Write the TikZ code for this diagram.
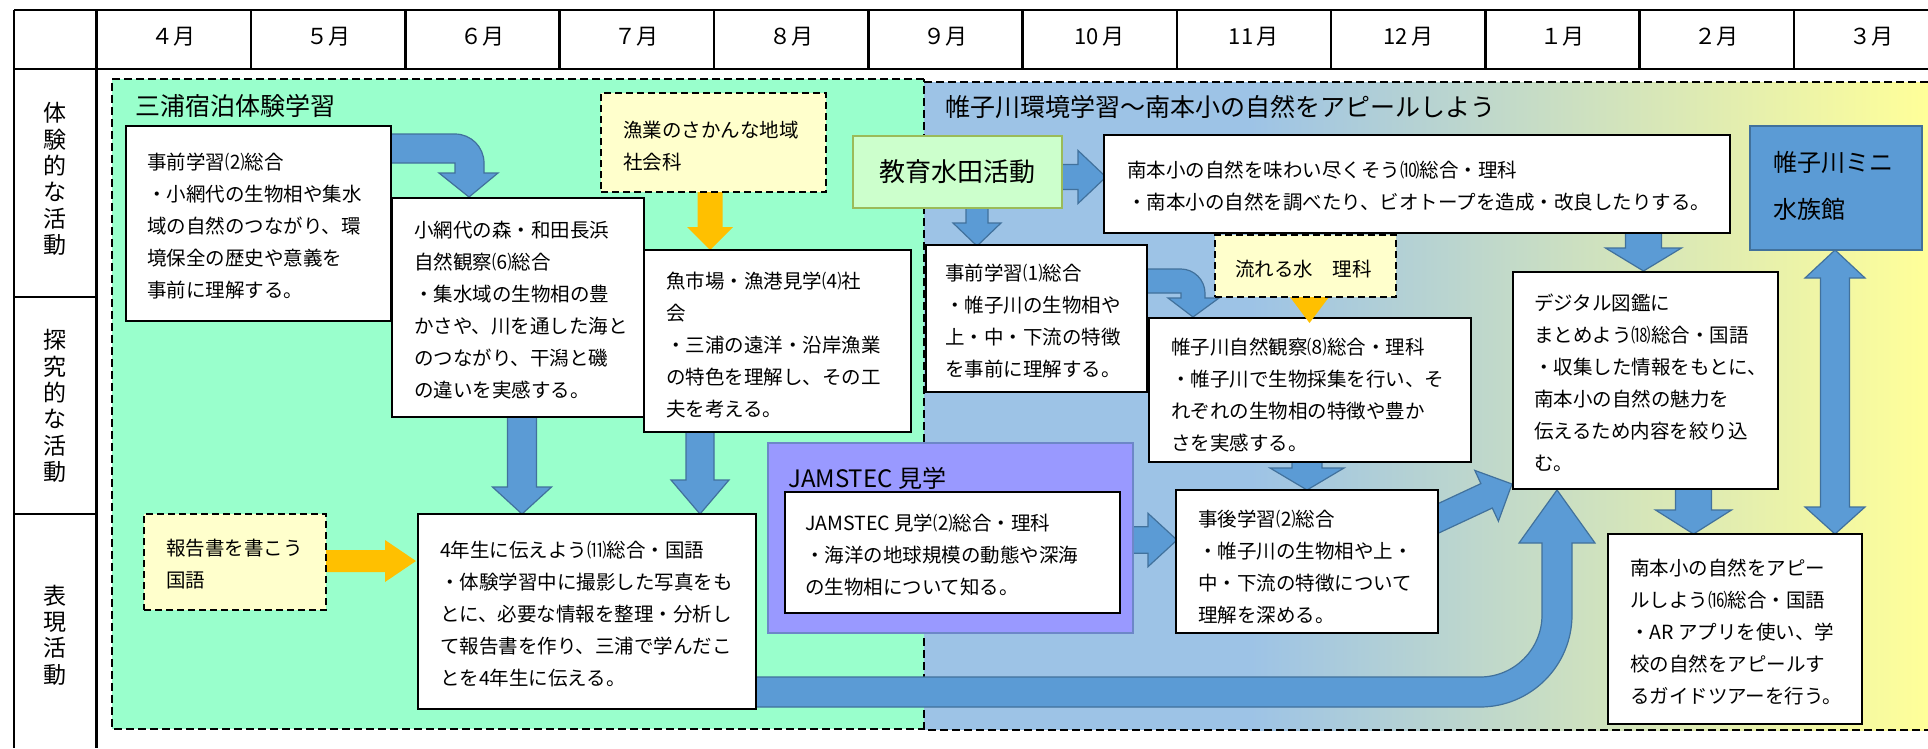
\documentclass[tikz,border=0pt]{standalone}
\usepackage{fontspec}
\setmainfont{Noto Sans CJK JP}
\usetikzlibrary{calc}
\definecolor{mint}{HTML}{99FFCC}
\definecolor{skyb}{HTML}{9DC3E6}
\definecolor{paley}{HTML}{FFFF99}
\definecolor{ylw}{HTML}{FFFFCC}
\definecolor{orng}{HTML}{FFC000}
\definecolor{arrblue}{HTML}{5B9BD5}
\definecolor{arrline}{HTML}{41719C}
\definecolor{lgreen}{HTML}{CCFFCC}
\definecolor{oliveg}{HTML}{9BBB59}
\definecolor{purp}{HTML}{9999FF}
\definecolor{purpline}{HTML}{6D87C8}
\newcommand\mybox[6]{\node[#2, anchor=north west, inner sep=0pt, outer sep=0pt, minimum width={(#5-#3)*1pt}, minimum height={(#6-#4)*1pt}] (#1) at (#3,#4) {};}
\newcommand\darrow[7]{\path[#1] ({#2-#6},#3) -- ({#2+#6},#3) -- ({#2+#6},#4) -- ({#2+#7},#4) -- (#2,#5) -- ({#2-#7},#4) -- ({#2-#6},#4) -- cycle;}
\newcommand\rarrow[7]{\path[#1] (#2,{#5-#6}) -- (#3,{#5-#6}) -- (#3,{#5-#7}) -- (#4,#5) -- (#3,{#5+#7}) -- (#3,{#5+#6}) -- (#2,{#5+#6}) -- cycle;}
\tikzset{
  tline/.style={line width=2.6pt},
  region/.style={line width=2.4pt, dash pattern=on 8pt off 4pt},
  wbox/.style={draw=black, fill=white, line width=2.6pt},
  ybox/.style={draw=black, fill=ylw, line width=2.4pt, dash pattern=on 7pt off 4pt},
  txt/.style={anchor=base west, inner sep=0pt, outer sep=0pt, align=left, font=\fontsize{19.5}{32}\selectfont},
  ttl/.style={anchor=base west, inner sep=0pt, font=\fontsize{25}{30}\selectfont},
  month/.style={anchor=base, inner sep=0pt, font=\fontsize{22}{26}\selectfont},
  lbl/.style={inner sep=0pt, align=center, font=\fontsize{23}{26.4}\selectfont},
  barrow/.style={fill=arrblue, draw=arrline, line width=1.2pt},
  oarrow/.style={fill=orng, draw=none},
}
\begin{document}
\begin{tikzpicture}[x=1pt,y=-1pt]
\useasboundingbox (0,0) rectangle (1928,748);
% ---------- table ----------
\draw[tline] (14,10) -- (1928,10);
\draw[tline] (14,69) -- (1928,69);
\draw[tline] (14,10) -- (14,748);
\draw[tline] (96.7,10) -- (96.7,748);
\draw[tline] (14,297) -- (96.7,297);
\draw[tline] (14,514) -- (96.7,514);
\foreach \k in {1,...,11} \draw[tline] ({96.7+154.3*\k},10) -- ({96.7+154.3*\k},69);
\foreach \m [count=\k from 0] in {４月,５月,６月,７月,８月,９月,10\,月,11\,月,12\,月,１月,２月,３月}
  \node[month] (m\k) at ({96.7+154.3*(\k+0.5)},44.5) {\m};
\node[lbl] (l1) at (55,179) {体\\験\\的\\な\\活\\動};
\node[lbl] (l2) at (55,406) {探\\究\\的\\な\\活\\動};
\node[lbl] (l3) at (55,635) {表\\現\\活\\動};
% ---------- regions ----------
\fill[mint] (112,79) rectangle (924,729);
\fill[skyb] (924,82) rectangle (1251,730);
\shade[left color=skyb, right color=paley] (1250,82) rectangle (1928,730);
\draw[region] (924,79) -- (112,79) -- (112,729) -- (924,729);
\draw[region] (1928,82) -- (924,82) -- (924,730) -- (1928,730);
\draw[region] (924,79) -- (924,82);
\node[ttl] (title1) at (135,115.5) {三浦宿泊体験学習};
\node[ttl] (title2) at (945,116.5) {帷子川環境学習～南本小の自然をアピールしよう};
% ---------- arrows behind boxes ----------
\path[barrow] (380,134) -- (455,134) .. controls (471,134) and (484,147) .. (484,163) -- (484,173) -- (498,173) -- (469,197) -- (439,173) -- (455,173) -- (455,163) -- (380,163) -- cycle;
\darrow{barrow}{522}{410}{487}{514}{14.5}{29.5}
\darrow{barrow}{700}{425}{480}{514}{14}{29}
\rarrow{oarrow}{320}{385}{416}{561}{11}{21}
\darrow{oarrow}{710}{185}{227}{250}{12.5}{23}
\rarrow{barrow}{1055}{1078}{1106}{177}{12.5}{26.5}
\darrow{barrow}{977}{200}{223}{246}{11}{24}
\path[barrow] (1140,269) -- (1181,269) .. controls (1194,269) and (1205,280) .. (1205,293) -- (1205,298) -- (1219,298) -- (1193,317) -- (1168,298) -- (1181,298) -- (1181,293) -- (1140,293) -- cycle;
\darrow{barrow}{1643.5}{226}{248}{271}{18}{38}
\darrow{barrow}{1307}{455}{468}{490}{15}{37}
\rarrow{barrow}{1125}{1148}{1177}{540}{13.3}{26.7}
\path[barrow] (1426.5,509) -- (1480.9,483.6) -- (1474.8,470.4) -- (1512,484) -- (1498.4,521.2) -- (1492.3,508) -- (1437.9,533.4) -- cycle;
\path[barrow] (740,677) -- (1480,677) .. controls (1514.2,677) and (1542,649.2) .. (1542,615) -- (1542,543) -- (1519,543) -- (1557,490) -- (1595,543) -- (1572,543) -- (1572,615) .. controls (1572,665.8) and (1530.8,707) .. (1480,707) -- (740,707) -- cycle;
\darrow{barrow}{1693.5}{482}{510}{534}{18}{38}
\path[barrow] (1835,250) -- (1865,278) -- (1849.5,278) -- (1849.5,507) -- (1865,507) -- (1835,534) -- (1805,507) -- (1820.5,507) -- (1820.5,278) -- (1805,278) -- cycle;
% ---------- boxes ----------
\mybox{b1}{wbox}{126}{126}{391}{321}
\mybox{b2}{wbox}{392}{198}{644}{417}
\mybox{yA}{ybox}{601}{93}{826}{192}
\mybox{b3}{wbox}{644}{250}{911}{432}
\node[draw=oliveg, fill=lgreen, line width=2.6pt, anchor=north west, inner sep=0pt, outer sep=0pt, minimum width=209pt, minimum height=72pt, font=\fontsize{26}{30}\selectfont] (g) at (853,136) {教育水田活動};
\mybox{b4}{wbox}{1104}{135}{1730}{233}
\mybox{b5}{wbox}{926}{245}{1147}{392}
\mybox{b6}{wbox}{1149}{318}{1471}{462}
\darrow{oarrow}{1309.5}{270}{297}{323}{10}{19.5}
\mybox{yB}{ybox}{1215}{235}{1396}{297}
\mybox{aq}{draw=arrline, fill=arrblue, line width=2.6pt}{1750}{126}{1922}{250}
\mybox{b8}{wbox}{1513}{272}{1778}{489}
\mybox{J}{draw=purpline, fill=purp, line width=2.6pt}{768}{443}{1133}{633}
\mybox{Jin}{wbox}{785}{492}{1120}{613}
\mybox{b7}{wbox}{1176}{490}{1438}{633}
\mybox{yC}{ybox}{144}{514}{326}{610}
\mybox{b10}{wbox}{418}{514}{756}{709}
\mybox{b9}{wbox}{1608}{534}{1862}{724}
% ---------- texts (anchor = baseline of last line) ----------
\node[txt] (t1) at (147,297.4) {事前学習⑵総合\\・小網代の生物相や集水\\域の自然のつながり、環\\境保全の歴史や意義を\\事前に理解する。};
\node[txt] (t2) at (414,397.4) {小網代の森・和田長浜\\自然観察⑹総合\\・集水域の生物相の豊\\かさや、川を通した海と\\のつながり、干潟と磯\\の違いを実感する。};
\node[txt] (tA) at (623,169.4) {漁業のさかんな地域\\社会科};
\node[txt] (t3) at (666,416.4) {魚市場・漁港見学⑷社\\会\\・三浦の遠洋・沿岸漁業\\の特色を理解し、その工\\夫を考える。};
\node[txt] (t4) at (1127,209.4) {南本小の自然を味わい尽くそう⑽総合・理科\\・南本小の自然を調べたり、ビオトープを造成・改良したりする。};
\node[txt] (t5) at (945,376.4) {事前学習⑴総合\\・帷子川の生物相や\\上・中・下流の特徴\\を事前に理解する。};
\node[txt] (tB) at (1235,276.4) {流れる水　理科};
\node[txt] (t6) at (1171,450.4) {帷子川自然観察⑻総合・理科\\・帷子川で生物採集を行い、そ\\れぞれの生物相の特徴や豊か\\さを実感する。};
\node[anchor=base west, inner sep=0pt, align=left, font=\fontsize{24}{47}\selectfont] (taq) at (1773,218) {帷子川ミニ\\水族館};
\node[txt] (t8) at (1534,470.4) {デジタル図鑑に\\まとめよう⒅総合・国語\\・収集した情報をもとに、\\南本小の自然の魅力を\\伝えるため内容を絞り込\\む。};
\node[anchor=base west, inner sep=0pt, font=\fontsize{24}{28}\selectfont] (tJ) at (788,487) {JAMSTEC 見学};
\node[txt] (tJin) at (805,594.4) {JAMSTEC 見学⑵総合・理科\\・海洋の地球規模の動態や深海\\の生物相について知る。};
\node[txt] (t7) at (1198,622.4) {事後学習⑵総合\\・帷子川の生物相や上・\\中・下流の特徴について\\理解を深める。};
\node[txt] (tC) at (166,587.4) {報告書を書こう\\国語};
\node[txt] (t10) at (440,685.4) {4年生に伝えよう⑾総合・国語\\・体験学習中に撮影した写真をも\\とに、必要な情報を整理・分析し\\て報告書を作り、三浦で学んだこ\\とを4年生に伝える。};
\node[txt] (t9) at (1630,703.4) {南本小の自然をアピー\\ルしよう⒃総合・国語\\・AR アプリを使い、学\\校の自然をアピールす\\るガイドツアーを行う。};
\end{tikzpicture}
\end{document}
